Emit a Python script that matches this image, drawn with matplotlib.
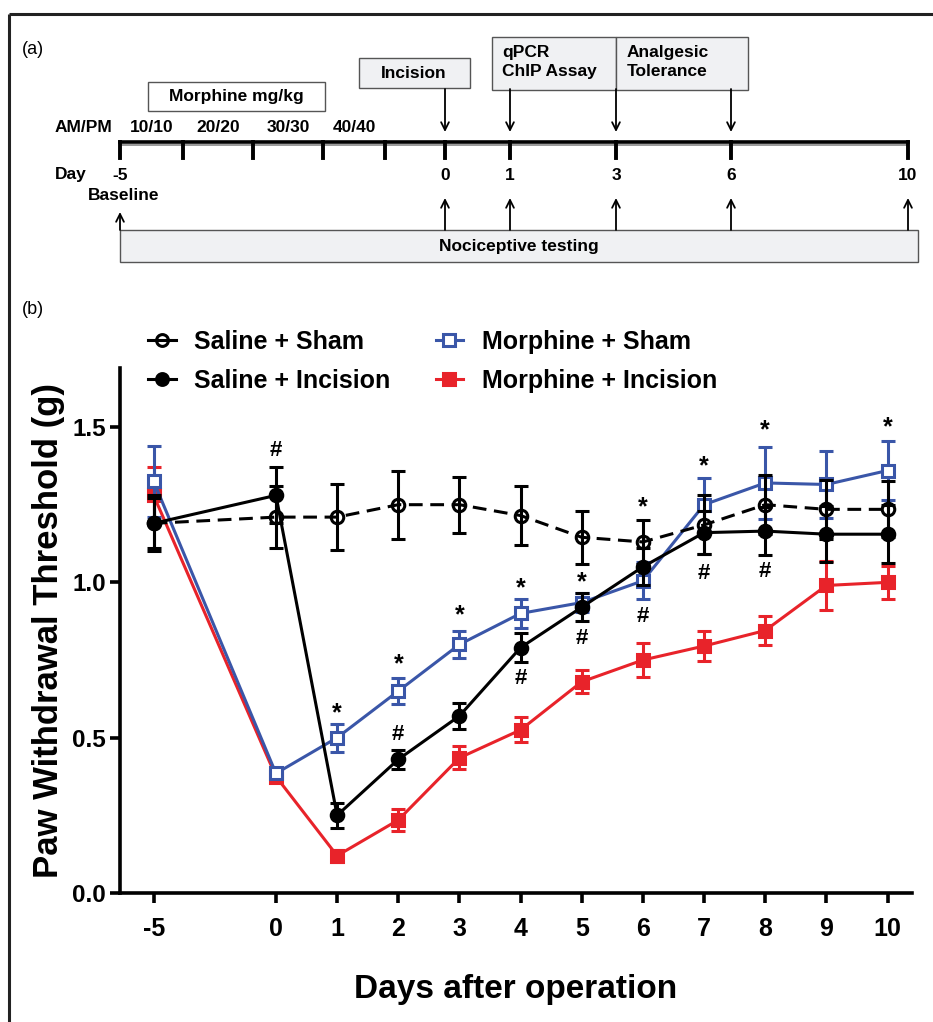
import matplotlib
matplotlib.use("Agg")
import matplotlib.pyplot as plt
from matplotlib.patches import Rectangle
from matplotlib.lines import Line2D
import numpy as np

plt.rcParams['font.family'] = ['Liberation Sans', 'DejaVu Sans']

# ---- data (b) ----
days = np.array([-5, 0, 1, 2, 3, 4, 5, 6, 7, 8, 9, 10])
day_labels = ['-5', '0', '1', '2', '3', '4', '5', '6', '7', '8', '9', '10']

saline_sham = [1.19, 1.21, 1.21, 1.25, 1.25, 1.215, 1.145, 1.13, 1.185, 1.25, 1.235, 1.235]
saline_sham_err = [0.09, 0.10, 0.105, 0.11, 0.09, 0.094, 0.086, 0.07, 0.095, 0.095, 0.095, 0.09]

saline_inc = [1.19, 1.28, 0.25, 0.43, 0.57, 0.79, 0.92, 1.05, 1.16, 1.165, 1.155, 1.155]
saline_inc_err = [0.08, 0.09, 0.04, 0.03, 0.043, 0.048, 0.045, 0.06, 0.07, 0.077, 0.09, 0.094]

morph_sham = [1.325, 0.385, 0.50, 0.65, 0.80, 0.90, 0.935, 1.005, 1.25, 1.32, 1.315, 1.36]
morph_sham_err = [0.115, 0.015, 0.045, 0.042, 0.044, 0.048, 0.03, 0.06, 0.085, 0.115, 0.107, 0.095]

morph_inc = [1.28, 0.375, 0.12, 0.235, 0.435, 0.525, 0.68, 0.75, 0.795, 0.845, 0.99, 1.0]
morph_inc_err = [0.09, 0.015, 0.02, 0.036, 0.037, 0.04, 0.037, 0.056, 0.048, 0.048, 0.078, 0.054]

# significance marks: (day, y)
star_marks = [(1, 0.58), (2, 0.735), (3, 0.895), (4, 0.98), (5, 1.0),
              (6, 1.24), (7, 1.375), (8, 1.49), (10, 1.5)]
hash_marks = [(0, 1.425), (2, 0.51), (4, 0.69), (5, 0.82), (6, 0.89),
              (7, 1.03), (8, 1.035)]

# ---- data (a) timeline ----
tl_labels = ['-5', '0', '1', '3', '6', '10']
dose_labels = ['10/10', '20/20', '30/30', '40/40']

BLUE = '#3a56a8'
RED = '#e8232a'


def xpos(d):
    # day -5 is drawn two slots left of day 0 (broken axis)
    d = np.asarray(d)
    return np.where(d == -5, -2, d)


fig = plt.figure(figsize=(9.33, 10.22), dpi=100)

# overlay in pixel coordinates for the schematic panel and frame
ov = fig.add_axes([0, 0, 1, 1])
ov.set_xlim(0, 933)
ov.set_ylim(1022, 0)
ov.axis('off')

ov.plot([9, 9], [14, 1022], color='#222222', lw=2.2, solid_capstyle='butt')
ov.plot([9, 933], [14, 14], color='#222222', lw=2.2, solid_capstyle='butt')

ov.text(22, 50, '(a)', fontsize=13, va='center')
ov.text(22, 310, '(b)', fontsize=13, va='center')

fs = 12.5
# timeline layout
tl_x = [120, 445, 510, 616, 731, 908]
minor_x = [183, 253, 323, 385]
line_y = 142
ov.plot([120, 908], [line_y, line_y], color='black', lw=2.6)
ov.plot([120, 908], [line_y + 3, line_y + 3], color='#999999', lw=1.4)
for x in tl_x + minor_x:
    ov.plot([x, x], [line_y, line_y + 16], color='black', lw=2.8)

ov.text(55, 127, 'AM/PM', fontsize=fs, fontweight='bold', va='center')
dose_x = [(a + b) / 2 for a, b in zip([120] + minor_x[:3], minor_x)]
for x, lab in zip(dose_x, dose_labels):
    ov.text(x, 127, lab, fontsize=fs, fontweight='bold', ha='center', va='center')

ov.text(55, 175, 'Day', fontsize=fs, fontweight='bold', va='center')
for x, lab in zip(tl_x, tl_labels):
    ov.text(x, 175, lab, fontsize=fs, fontweight='bold', ha='center', va='center')
ov.text(88, 195, 'Baseline', fontsize=fs, fontweight='bold', va='center')

box_gray = '#f0f1f3'
ov.add_patch(Rectangle((148, 82), 177, 29, fc='white', ec='#555555', lw=1))
ov.text(236, 97, 'Morphine mg/kg', fontsize=fs, fontweight='bold', ha='center', va='center')
ov.add_patch(Rectangle((359, 58), 111, 30, fc=box_gray, ec='#555555', lw=1))
ov.text(414, 74, 'Incision', fontsize=fs, fontweight='bold', ha='center', va='center')
ov.add_patch(Rectangle((492, 37), 124, 53, fc=box_gray, ec='#555555', lw=1))
ov.text(502, 62, 'qPCR\nChIP Assay', fontsize=fs, fontweight='bold', ha='left', va='center',
        linespacing=1.35)
ov.add_patch(Rectangle((616, 37), 132, 53, fc=box_gray, ec='#555555', lw=1))
ov.text(627, 62, 'Analgesic\nTolerance', fontsize=fs, fontweight='bold', ha='left', va='center',
        linespacing=1.35)
ov.add_patch(Rectangle((120, 230), 798, 32, fc=box_gray, ec='#555555', lw=1))
ov.text(519, 247, 'Nociceptive testing', fontsize=fs, fontweight='bold', ha='center', va='center')

arrow = dict(arrowstyle='->', lw=1.3, color='black', mutation_scale=14, shrinkA=0, shrinkB=0)
for x in [445, 510, 616, 731]:
    ov.annotate('', xy=(x, 132), xytext=(x, 89), arrowprops=arrow)
for x in [445, 510, 616, 731, 908]:
    ov.annotate('', xy=(x, 198), xytext=(x, 230), arrowprops=arrow)
ov.annotate('', xy=(120, 212), xytext=(120, 230), arrowprops=arrow)

# ---- panel (b) ----
ax = fig.add_axes([120 / 933, 1 - 893 / 1022, 792 / 933, 525 / 1022])
ax.set_xlim(-2.55, 10.4)
ax.set_ylim(0, 1.69)

xp = xpos(days)
common = dict(lw=2.2, elinewidth=2.2, capsize=5, capthick=2.2, markersize=9, mew=2.2)

ax.errorbar(xp, morph_inc, yerr=morph_inc_err, color=RED, marker='s', mfc=RED, mec=RED,
            zorder=2, **common)
ax.errorbar(xp, morph_sham, yerr=morph_sham_err, color=BLUE, marker='s', mfc='white', mec=BLUE,
            zorder=3, **common)
ax.errorbar(xp, saline_inc, yerr=saline_inc_err, color='black', marker='o', mfc='black', mec='black',
            zorder=4, **common)
eb = ax.errorbar(xp, saline_sham, yerr=saline_sham_err, color='black', marker='o', mfc='none',
                 mec='black', zorder=5, **common)
eb[0].set_linestyle((0, (4.5, 2.5)))

for d, y in star_marks:
    ax.text(xpos(d), y, '*', fontsize=18, fontweight='bold', ha='center', va='center')
for d, y in hash_marks:
    ax.text(xpos(d), y, '#', fontsize=16, fontweight='bold', ha='center', va='center')

for s in ['top', 'right']:
    ax.spines[s].set_visible(False)
for s in ['left', 'bottom']:
    ax.spines[s].set_linewidth(2.6)
ax.set_xticks(xp, day_labels)
ax.set_yticks([0, 0.5, 1.0, 1.5], ['0.0', '0.5', '1.0', '1.5'])
ax.tick_params(width=2.6, length=7, labelsize=17.5)
ax.tick_params(axis='x', pad=10, labelsize=18)
ax.tick_params(axis='y', pad=3)
for lab in ax.get_xticklabels() + ax.get_yticklabels():
    lab.set_fontweight('bold')
ax.set_ylabel('Paw Withdrawal Threshold (g)', fontsize=25, fontweight='bold', labelpad=5)
ax.set_xlabel('Days after operation', fontsize=24, fontweight='bold', labelpad=24)

handles = [
    Line2D([], [], color='black', marker='o', mfc='none', mec='black', lw=2.2, mew=2.2, ms=8.5),
    Line2D([], [], color='black', marker='o', mfc='black', mec='black', lw=2.2, mew=2.2, ms=8.5),
    Line2D([], [], color=BLUE, marker='s', mfc='white', mec=BLUE, lw=2.2, mew=2.2, ms=8.5),
    Line2D([], [], color=RED, marker='s', mfc=RED, mec=RED, lw=2.2, mew=2.2, ms=8.5),
]
labels = ['Saline + Sham', 'Saline + Incision', 'Morphine + Sham', 'Morphine + Incision']
fig.legend(handles, labels, ncol=2, frameon=False, loc='upper left',
           bbox_to_anchor=(138 / 933, 1 - 320 / 1022), handlelength=1.1, handletextpad=0.75,
           columnspacing=1.8, labelspacing=0.6, borderaxespad=0,
           prop=dict(size=18, weight='bold'))

fig.savefig('out.png', dpi=100)
